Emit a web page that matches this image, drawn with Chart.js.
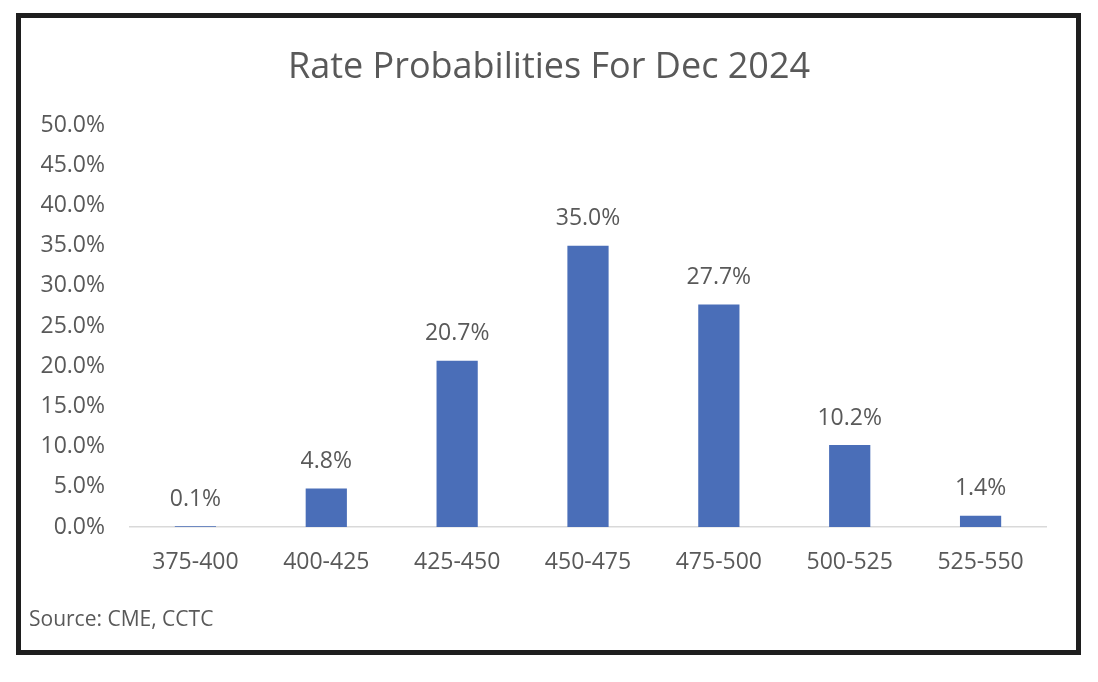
<!DOCTYPE html>
<html>
<head>
<meta charset="utf-8">
<script src="https://cdn.jsdelivr.net/npm/chart.js@4.4.1/dist/chart.umd.min.js"></script>
<style>
  html, body { margin: 0; padding: 0; background: #fff; }
  #wrap { position: absolute; left: 0; top: 0; width: 1098px; height: 682px; }
  #frame { position: absolute; left: 16px; top: 13px; width: 1055px; height: 632px; border: 5px solid #1e1e1e; pointer-events: none; }
</style>
</head>
<body>
<div id="wrap"><canvas id="c" width="1098" height="682"></canvas></div>
<div id="frame"></div>
<script>
const categories = ["375-400", "400-425", "425-450", "450-475", "475-500", "500-525", "525-550"];
const probabilities = [0.1, 4.8, 20.7, 35.0, 27.7, 10.2, 1.4];
const titleText = "Rate Probabilities For Dec 2024";
const sourceText = "Source: CME, CCTC";

const FONT = "'Open Sans', 'Liberation Sans', sans-serif";
const GREY = "#595959";

const valueLabels = {
  id: 'valueLabels',
  afterDatasetsDraw(chart) {
    const ctx = chart.ctx;
    const meta = chart.getDatasetMeta(0);
    ctx.save();
    ctx.font = "23px " + FONT;
    ctx.fillStyle = GREY;
    ctx.textAlign = 'center';
    ctx.textBaseline = 'middle';
    meta.data.forEach((bar, i) => {
      ctx.fillText(probabilities[i].toFixed(1) + '%', bar.x, bar.y - 27);
    });
    ctx.restore();
  }
};

const sourceNote = {
  id: 'sourceNote',
  afterDraw(chart) {
    const ctx = chart.ctx;
    ctx.save();
    ctx.font = "21px " + FONT;
    ctx.fillStyle = GREY;
    ctx.textAlign = 'left';
    ctx.textBaseline = 'middle';
    ctx.fillText(sourceText, 29, 620);
    ctx.restore();
  }
};

new Chart(document.getElementById('c'), {
  type: 'bar',
  data: {
    labels: categories,
    datasets: [{
      data: probabilities,
      backgroundColor: '#4A6EB8',
      borderWidth: 0,
      categoryPercentage: 1.0,
      barPercentage: 0.315
    }]
  },
  plugins: [valueLabels, sourceNote],
  options: {
    responsive: false,
    animation: false,
    layout: { padding: { left: 0, right: 0, top: 0, bottom: 95 } },
    plugins: {
      legend: { display: false },
      tooltip: { enabled: false },
      title: {
        display: true,
        text: titleText,
        color: GREY,
        font: { family: FONT, size: 36, weight: 'normal' },
        padding: { top: 46, bottom: 36 }
      }
    },
    scales: {
      x: {
        grid: { display: false, drawTicks: false },
        border: { display: true, color: '#d9d9d9', width: 1.5 },
        ticks: { color: GREY, font: { family: FONT, size: 23 }, padding: 22, maxRotation: 0 },
        afterFit(scale) { scale.height = 60; }
      },
      y: {
        min: 0,
        max: 50,
        grid: { display: false, drawTicks: false },
        border: { display: false },
        ticks: {
          stepSize: 5,
          color: GREY,
          font: { family: FONT, size: 23 },
          padding: 25,
          callback: v => Number(v).toFixed(1) + '%'
        },
        afterFit(scale) { scale.width = 130; }
      },
      spacer: {
        type: 'linear',
        position: 'right',
        display: true,
        grid: { display: false, drawTicks: false },
        border: { display: false },
        ticks: { display: false },
        afterFit(scale) { scale.width = 52; }
      }
    }
  }
});
</script>
</body>
</html>
